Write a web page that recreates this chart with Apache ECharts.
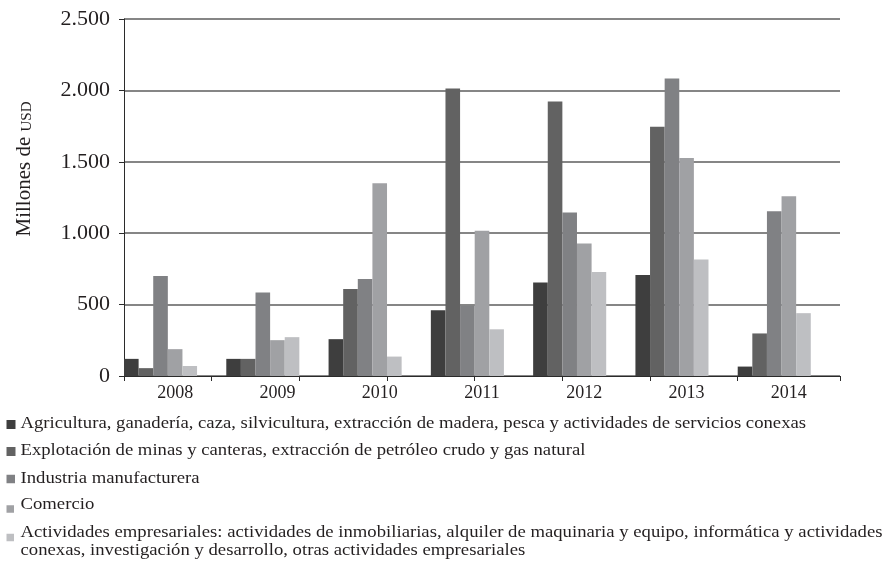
<!DOCTYPE html>
<html>
<head>
<meta charset="utf-8">
<script src="https://cdn.jsdelivr.net/npm/echarts@6/dist/echarts.min.js"></script>
<style>
  html, body { margin: 0; padding: 0; background: #fff; }
  #chart { width: 888px; height: 563px; }
</style>
</head>
<body>
<div id="chart"></div>
<script>
// Inversión por sector de actividad, millones de USD
const years = ['2008', '2009', '2010', '2011', '2012', '2013', '2014'];
const sectorNames = [
  'Agricultura, ganadería, caza, silvicultura, extracción de madera, pesca y actividades de servicios conexas',
  'Explotación de minas y canteras, extracción de petróleo crudo y gas natural',
  'Industria manufacturera',
  'Comercio',
  'Actividades empresariales: actividades de inmobiliarias, alquiler de maquinaria y equipo, informática y actividades\nconexas, investigación y desarrollo, otras actividades empresariales'
];
const agricultura   = [120, 120, 258, 461, 654, 708, 66];
const mineria       = [55, 120, 609, 2013, 1922, 1745, 298];
const manufactura   = [700, 585, 680, 494, 1145, 2084, 1153];
const comercio      = [188, 251, 1350, 1018, 927, 1526, 1259];
const empresariales = [70, 272, 136, 327, 729, 815, 440];
const yTicks = [0, 500, 1000, 1500, 2000, 2500];

const sectorValues = [agricultura, mineria, manufactura, comercio, empresariales];
const colors = ['#3e3e3e', '#626262', '#808184', '#a0a1a4', '#bebfc2'];
const serif = '"Liberation Serif", "DejaVu Serif", serif';
const ink = '#231f20';

// Thousands separator with a dot
const fmt = v => String(v).replace(/\B(?=(\d{3})+(?!\d))/g, '.');

const barSeries = sectorValues.map((vals, i) => ({
  name: sectorNames[i],
  type: 'bar',
  xAxisIndex: 0,
  yAxisIndex: 0,
  data: vals,
  barGap: '0%',
  barCategoryGap: '0%',
  itemStyle: { color: colors[i] },
  emphasis: { disabled: true }
}));
// two empty slots after each group of five bars
for (let k = 0; k < 2; k++) {
  barSeries.push({
    name: 'vacío' + k,
    type: 'bar',
    xAxisIndex: 0,
    yAxisIndex: 0,
    data: years.map(() => '-'),
    barGap: '0%',
    barCategoryGap: '0%',
    itemStyle: { color: 'transparent' }
  });
}

// Legend drawn as graphic rows
const rowCenters = [423.6, 451, 478.3, 504.4, 532.6];
const markers = [
  { cy: 424.5, size: 9 },
  { cy: 451.5, size: 9 },
  { cy: 479, size: 8.5 },
  { cy: 509, size: 7.5 },
  { cy: 537.5, size: 7.5 }
];
const legendItems = [];
sectorNames.forEach((name, i) => {
  const m = markers[i];
  legendItems.push({
    type: 'rect',
    shape: { x: 6.5, y: m.cy - m.size / 2, width: m.size, height: m.size },
    style: { fill: colors[i] },
    silent: true
  });
  legendItems.push({
    type: 'text',
    x: 20.5,
    y: rowCenters[i] - 9.2,
    scaleX: 1.1,
    style: {
      text: name,
      fontFamily: serif,
      fontSize: 17,
      lineHeight: 18.4,
      fill: ink,
      verticalAlign: 'top',
      align: 'left'
    },
    silent: true
  });
});

const chart = echarts.init(document.getElementById('chart'), null, { renderer: 'canvas' });
chart.setOption({
  animation: false,
  backgroundColor: '#ffffff',
  grid: { left: 124, right: 48, top: 19, height: 357, containLabel: false },
  xAxis: [
    {
      type: 'category',
      data: years,
      boundaryGap: true,
      axisLine: { show: true, lineStyle: { color: '#2b2b2b', width: 1 } },
      axisTick: { show: false },
      axisLabel: { fontFamily: serif, fontSize: 18, color: ink, margin: 8 }
    },
    {
      type: 'value',
      position: 'bottom',
      min: 0,
      max: 49,
      axisLine: { show: false },
      axisLabel: { show: false },
      splitLine: { show: false },
      axisTick: {
        show: true,
        length: 5,
        lineStyle: { color: '#2b2b2b', width: 1 },
        customValues: [0, 6, 12, 18, 24, 30, 36, 42, 49]
      }
    }
  ],
  yAxis: {
    type: 'value',
    min: yTicks[0],
    max: yTicks[yTicks.length - 1],
    interval: yTicks[1] - yTicks[0],
    axisLine: { show: true, lineStyle: { color: '#2b2b2b', width: 1 } },
    axisTick: { show: true, length: 5, lineStyle: { color: '#2b2b2b' } },
    axisLabel: {
      fontFamily: serif, fontSize: 22, color: ink, margin: 14,
      formatter: v => fmt(v)
    },
    splitLine: { show: true, lineStyle: { color: '#5e5e5e', width: 1.5 } }
  },
  series: barSeries,
  graphic: [
    {
      type: 'text',
      x: 23,
      y: 169,
      rotation: Math.PI / 2,
      style: {
        text: '{a|Millones de }{b|USD}',
        align: 'center',
        verticalAlign: 'middle',
        fill: ink,
        rich: {
          a: { fontFamily: serif, fontSize: 21, fill: ink, verticalAlign: 'bottom', lineHeight: 24 },
          b: { fontFamily: serif, fontSize: 15, fill: ink, verticalAlign: 'bottom', lineHeight: 24 }
        }
      },
      silent: true
    }
  ].concat(legendItems)
});
</script>
</body>
</html>
